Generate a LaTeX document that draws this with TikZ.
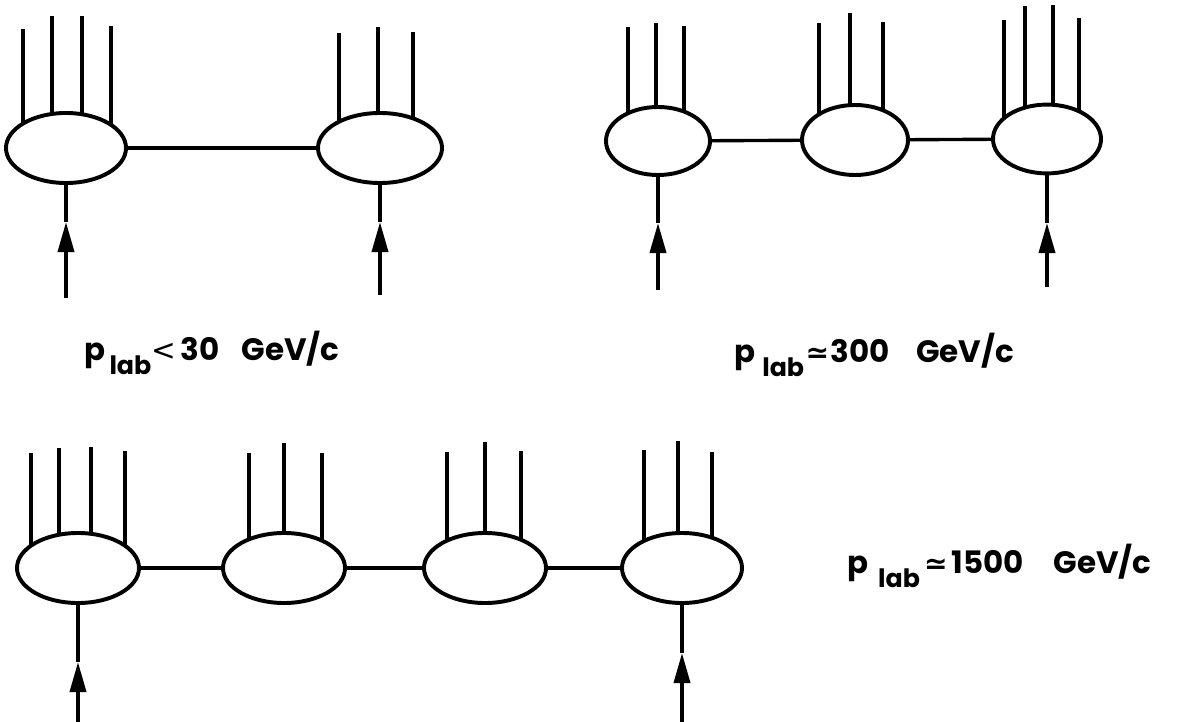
\documentclass[tikz,border=0pt]{standalone}
\usepackage{fontspec}
\setmainfont{Poppins}
\newfontfamily\relfont{DejaVu Sans}
\usetikzlibrary{arrows.meta,shapes.geometric,backgrounds}

\tikzset{
  blob/.style={draw, ellipse, line width=2.8pt, fill=white, inner sep=0pt},
  link/.style={line width=2.4pt},
  jet/.style={line width=2.6pt},
  beam/.style={line width=2.6pt, -{Triangle[length=7.5mm, width=4mm]}},
  plabel/.style={anchor=base west, inner sep=0pt, font=\fontsize{22}{22}\selectfont\bfseries}
}
% p with a lowered "lab"
\newcommand{\plab}[1]{p\hspace{#1}\raisebox{-10.5pt}{\fontsize{18}{18}\selectfont lab}}
\newcommand{\about}{{\relfont\bfseries\fontsize{20}{20}\selectfont ≃}}
\newcommand{\below}{{\relfont\mdseries\fontsize{21}{21}\selectfont<}}

\begin{document}
\begin{tikzpicture}[x=0.025cm, y=-0.025cm]
  \useasboundingbox (0,0) rectangle (1184,722);

  % p_lab < 30 GeV/c
  \node[blob, minimum width=3.0cm, minimum height=1.75cm] (a1) at (66,148) {};
  \node[blob, minimum width=3.1cm, minimum height=1.75cm] (a2) at (380,148) {};
  \draw[link] (a1) -- (a2);

  % p_lab ~ 300 GeV/c
  \node[blob, minimum width=2.6cm, minimum height=1.7cm] (b1) at (658,141) {};
  \node[blob, minimum width=2.65cm, minimum height=1.75cm] (b2) at (855,140) {};
  \node[blob, minimum width=2.7cm, minimum height=1.72cm] (b3) at (1047,139) {};
  \draw[link] (b1) -- (b2);
  \draw[link] (b2) -- (b3);

  % p_lab ~ 1500 GeV/c
  \node[blob, minimum width=3.05cm, minimum height=1.75cm] (c1) at (78,568) {};
  \node[blob, minimum width=3.05cm, minimum height=1.75cm] (c2) at (284,568) {};
  \node[blob, minimum width=3.05cm, minimum height=1.75cm] (c3) at (485,568) {};
  \node[blob, minimum width=3.0cm, minimum height=1.75cm] (c4) at (682,568) {};
  \draw[link] (c1) -- (c2);
  \draw[link] (c2) -- (c3);
  \draw[link] (c3) -- (c4);

  % outgoing particles, behind the blobs
  \begin{scope}[on background layer]
    \foreach \x/\y in {23/29, 52/16, 82/16, 111/26}
      \draw[jet] (a1.center -| \x,0) -- (\x,\y);
    \foreach \x/\y in {339/33, 378/27, 413/32}
      \draw[jet] (a2.center -| \x,0) -- (\x,\y);
    \foreach \x/\y in {628/27, 656/23, 684/26}
      \draw[jet] (b1.center -| \x,0) -- (\x,\y);
    \foreach \x/\y in {819/23, 850/13, 883/22}
      \draw[jet] (b2.center -| \x,0) -- (\x,\y);
    \foreach \x/\y in {1004/20, 1025/6, 1053/5, 1079/18}
      \draw[jet] (b3.center -| \x,0) -- (\x,\y);
    \foreach \x/\y in {31/453, 59/448, 91/447, 125/451}
      \draw[jet] (c1.center -| \x,0) -- (\x,\y);
    \foreach \x/\y in {249/453, 284/443, 322/453}
      \draw[jet] (c2.center -| \x,0) -- (\x,\y);
    \foreach \x/\y in {447/452, 485/442, 521/451}
      \draw[jet] (c3.center -| \x,0) -- (\x,\y);
    \foreach \x/\y in {644/450, 678/441, 712/452}
      \draw[jet] (c4.center -| \x,0) -- (\x,\y);
  \end{scope}

  % incoming beams
  \coordinate (fa1) at (66,298);   \coordinate (ta1) at (66,222);
  \coordinate (fa2) at (380,295);  \coordinate (ta2) at (380,222);
  \coordinate (fb1) at (658,290);  \coordinate (tb1) at (658,223);
  \coordinate (fb3) at (1047,287); \coordinate (tb3) at (1047,223);
  \coordinate (fc1) at (78,722);   \coordinate (tc1) at (78,662);
  \coordinate (fc4) at (682,722);  \coordinate (tc4) at (682,653);
  \foreach \n in {a1,a2,b1,b3,c1,c4} {
    \draw[beam] (f\n) -- (t\n);
    \draw[jet] (t\n) -- (\n.south);
  }

  % labels
  \node[plabel] (la) at (84,360)
    {\plab{3pt}\below\hspace{3pt}30\hspace{16pt}GeV/c};
  \node[plabel] (lb) at (734,362)
    {\plab{5pt}\hspace{1pt}\about\hspace{1pt}300\hspace{19pt}GeV/c};
  \node[plabel] (lc) at (847,573)
    {\plab{7pt}\hspace{3pt}\about\hspace{3pt}1500\hspace{21pt}GeV/c};
\end{tikzpicture}
\end{document}
